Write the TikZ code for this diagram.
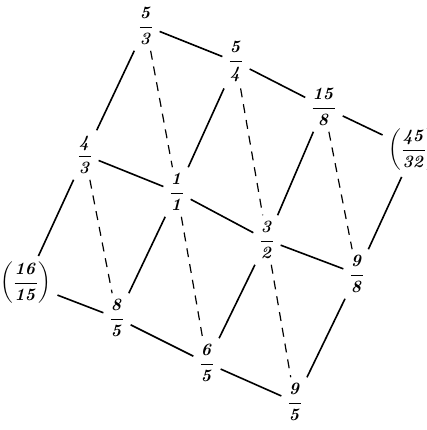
\documentclass[tikz,border=0pt]{standalone}
\usepackage{amsmath}
\tikzset{
	ratio/.style={inner sep=6pt, font=\fontsize{17}{20}\selectfont\boldmath},
	solidlink/.style={line width=1.6pt},
	dashlink/.style={line width=1.2pt, dash pattern=on 9pt off 7pt}
}
\newcommand{\rat}[2]{$\dfrac{\mathit{#1}}{\mathit{#2}}$}
\newcommand{\prat}[2]{$\left(\dfrac{\mathit{#1}}{\mathit{#2}}\right)$}

\begin{document}
\begin{tikzpicture}[x=1pt, y=-1pt]
	\clip (0,0) rectangle (427,430);

	% --- Top row ---
	\node[ratio] (a1) at (146,26) {\rat{5}{3}};
	\node[ratio] (a2) at (236,62) {\rat{5}{4}};
	\node[ratio] (a3) at (324,107) {\rat{15}{8}};
	\node[ratio] (a4) at (414,150) {\prat{45}{32}};

	% --- Middle row ---
	\node[ratio] (b1) at (85,155) {\rat{4}{3}};
	\node[ratio] (b2) at (177,192) {\rat{1}{1}};
	\node[ratio] (b3) at (267,240) {\rat{3}{2}};
	\node[ratio] (b4) at (357,274) {\rat{9}{8}};

	% --- Bottom row ---
	\node[ratio] (c1) at (26,283) {\prat{16}{15}};
	\node[ratio] (c2) at (117,318) {\rat{8}{5}};
	\node[ratio] (c3) at (207,363) {\rat{6}{5}};
	\node[ratio] (c4) at (295,402) {\rat{9}{5}};

	% Rows
	\foreach \r in {a,b,c} \draw[solidlink] (\r1) -- (\r2) -- (\r3) -- (\r4);
	% Thirds
	\foreach \i in {1,2,3,4} {
		\draw[solidlink] (b\i) -- (a\i);
		\draw[solidlink] (c\i) -- (b\i);
	}
	% Diagonals
	\foreach \i/\j in {1/2,2/3,3/4} {
		\draw[dashlink] (a\i) -- (b\j);
		\draw[dashlink] (b\i) -- (c\j);
	}
\end{tikzpicture}
\end{document}
